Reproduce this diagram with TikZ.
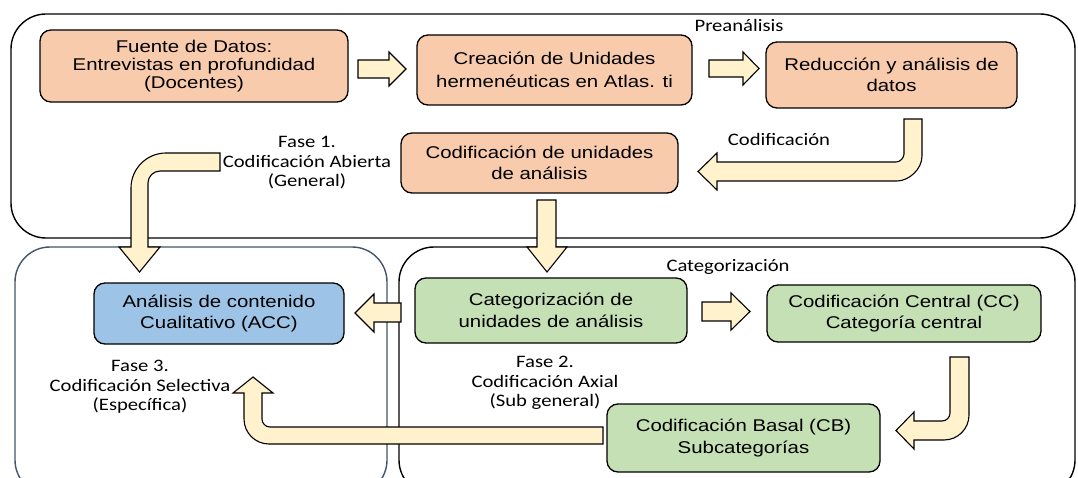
\documentclass[tikz,border=0pt]{standalone}
\usepackage{fontspec}
\setmainfont{Liberation Sans}[FakeStretch=1.2]
\newfontfamily\labfont{Carlito}[FakeStretch=1.18]
\definecolor{orangefill}{HTML}{F8CBAD}
\definecolor{bluefill}{HTML}{9DC3E6}
\definecolor{greenfill}{HTML}{C5E0B4}
\definecolor{arrowfill}{HTML}{FFF2CC}
\definecolor{slate}{HTML}{44546A}
\tikzset{
  procbox/.style={draw=black, line width=1.3pt, rounded corners=11pt, align=center,
    inner sep=0pt, font=\fontsize{17}{21.5}\selectfont},
  container/.style={draw=black, line width=1.4pt, rounded corners=35pt},
  fatarrow/.style={draw=black, line width=1.1pt, fill=arrowfill, line join=miter},
  phaselabel/.style={align=center, inner sep=0pt, font=\labfont\fontsize{17.5}{19.5}\selectfont},
}
\begin{document}
\begin{tikzpicture}[x=1pt,y=-1pt]
\useasboundingbox (0,0) rectangle (1078,478);
\clip (0,0) rectangle (1078,478);
% containers
\draw[container] (11,14) rectangle (1075,238);
\draw[container, draw=slate] (15,247) rectangle (387,495);
\draw[container] (399,247) rectangle (1075,495);
% container labels
\node[phaselabel, anchor=base] (lpre) at (739,32) {Preanálisis};
\node[phaselabel, anchor=base] (lcat) at (728,271) {Categorización};
\node[phaselabel, anchor=base] (lcod) at (779,146) {Codificación};
\node[phaselabel] (lf1) at (307,163) {Fase 1.\\Codificación Abierta\\(General)};
\node[phaselabel] (lf2) at (545,383) {Fase 2.\\Codificación Axial\\(Sub general)};
\node[phaselabel] (lf3) at (140,387) {Fase 3.\\Codificación Selectiva\\(Específica)};
% fat arrows
\draw[fatarrow] (358,60) -- (389,60) -- (389,52) -- (406,69) -- (389,86) -- (389,78) -- (358,78) -- cycle;
\draw[fatarrow] (709,60) -- (743,60) -- (743,52) -- (759,68.5) -- (743,85) -- (743,77) -- (709,77) -- cycle;
\draw[fatarrow] (702,302) -- (731,302) -- (731,293) -- (750,311.5) -- (731,330) -- (731,321) -- (702,321) -- cycle;
\draw[fatarrow] (401,303) -- (374,303) -- (374,294) -- (355,313) -- (374,332) -- (374,322) -- (401,322) -- cycle;
\draw[fatarrow] (537,200) -- (556,200) -- (556,247) -- (567,247) -- (547,272) -- (527,247) -- (537,247) -- cycle;
% bent arrow: Reduccion -> Codificacion de unidades
\draw[fatarrow] (904,119) -- (922,119) -- (922,156) .. controls (922,169.8) and (908.2,181) .. (897,181)
  -- (717,181) -- (717,190) -- (698,171.5) -- (717,153) -- (717,162) -- (896,162)
  .. controls (900.4,162) and (904,157.6) .. (904,154) -- cycle;
% bent arrow: CC -> CB
\draw[fatarrow] (950,357) -- (969,357) -- (969,415) .. controls (969,428.8) and (957.8,440) .. (944,440)
  -- (914,440) -- (914,449) -- (896,430.5) -- (914,412) -- (914,421) -- (942,421)
  .. controls (946.4,421) and (950,417.4) .. (950,413) -- cycle;
% bent arrow: CB -> ACC
\draw[fatarrow] (603,427) -- (603,444) -- (269,444) .. controls (255.2,444) and (244,432.8) .. (244,419)
  -- (244,393) -- (233,393) -- (253,377) -- (273,393) -- (262,393) -- (262,419)
  .. controls (262,423.4) and (265.6,427) .. (270,427) -- cycle;
% bent arrow: Fase 1 -> ACC
\draw[fatarrow] (220,153) -- (166,153) .. controls (146.7,153) and (131,168.7) .. (131,188)
  -- (131,247) -- (119,247) -- (139.5,272) -- (160,247) -- (148,247) -- (148,183)
  .. controls (148,176.4) and (153.4,171) .. (160,171) -- (220,171) -- cycle;
% process boxes
\node[procbox, fill=orangefill, minimum width=308pt, minimum height=72pt, font=\fontsize{17}{18}\selectfont] (fuente) at (194,66) {Fuente de Datos:\\Entrevistas en profundidad\\(Docentes)};
\node[procbox, fill=orangefill, minimum width=275pt, minimum height=70pt, font=\fontsize{17}{22.5}\selectfont] (creacion) at (554.5,70) {Creación de Unidades\\hermenéuticas en Atlas. ti};
\node[procbox, fill=orangefill, minimum width=251pt, minimum height=66pt] (reduccion) at (891.5,75) {Reducción y análisis de\\datos};
\node[procbox, fill=orangefill, minimum width=277pt, minimum height=60pt] (codunid) at (539.5,163) {Codificación de unidades\\de análisis};
\node[procbox, fill=bluefill, minimum width=250pt, minimum height=61pt] (acc) at (219,313.5) {Análisis de contenido\\Cualitativo (ACC)};
\node[procbox, fill=greenfill, minimum width=272pt, minimum height=65pt] (categ) at (551,310.5) {Categorización de\\unidades de análisis};
\node[procbox, fill=greenfill, minimum width=274pt, minimum height=57pt] (cc) at (904,313.5) {Codificación Central (CC)\\Categoría central};
\node[procbox, fill=greenfill, minimum width=273pt, minimum height=68pt] (cb) at (743.5,438) {Codificación Basal (CB)\\Subcategorías};
\end{tikzpicture}
\end{document}
